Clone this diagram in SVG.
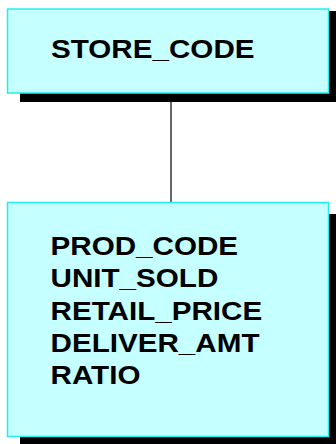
<svg xmlns="http://www.w3.org/2000/svg" width="336" height="444" viewBox="0 0 336 444">
<style>
.shadow{fill:#000}
.box{fill:#c6ffff;stroke:#22eeee;stroke-width:1.5}
.lbl{font-family:"Liberation Sans",Arial,sans-serif;font-weight:bold;font-size:26px;fill:#000}
.conn{stroke:#333;stroke-width:1.5;fill:none}
</style>
<g id="connectors">
<line class="conn" x1="171" y1="101" x2="171" y2="203"/>
</g>
<g id="store_code">
<rect class="shadow" x="20" y="11" width="322" height="91"/>
<rect class="box" x="7.5" y="9" width="321" height="84"/>
<text class="lbl" transform="translate(51,57.5) scale(1.14,1)">STORE_CODE</text>
</g>
<g id="product">
<rect class="shadow" x="20" y="214" width="322" height="240"/>
<rect class="box" x="7.5" y="202.5" width="321" height="234"/>
<text class="lbl" transform="translate(50.5,255) scale(1.14,1)">PROD_CODE</text>
<text class="lbl" transform="translate(50.5,287) scale(1.14,1)">UNIT_SOLD</text>
<text class="lbl" transform="translate(50.5,319.5) scale(1.14,1)">RETAIL_PRICE</text>
<text class="lbl" transform="translate(50.5,351.5) scale(1.14,1)">DELIVER_AMT</text>
<text class="lbl" transform="translate(50.5,384) scale(1.14,1)">RATIO</text>
</g>
</svg>
